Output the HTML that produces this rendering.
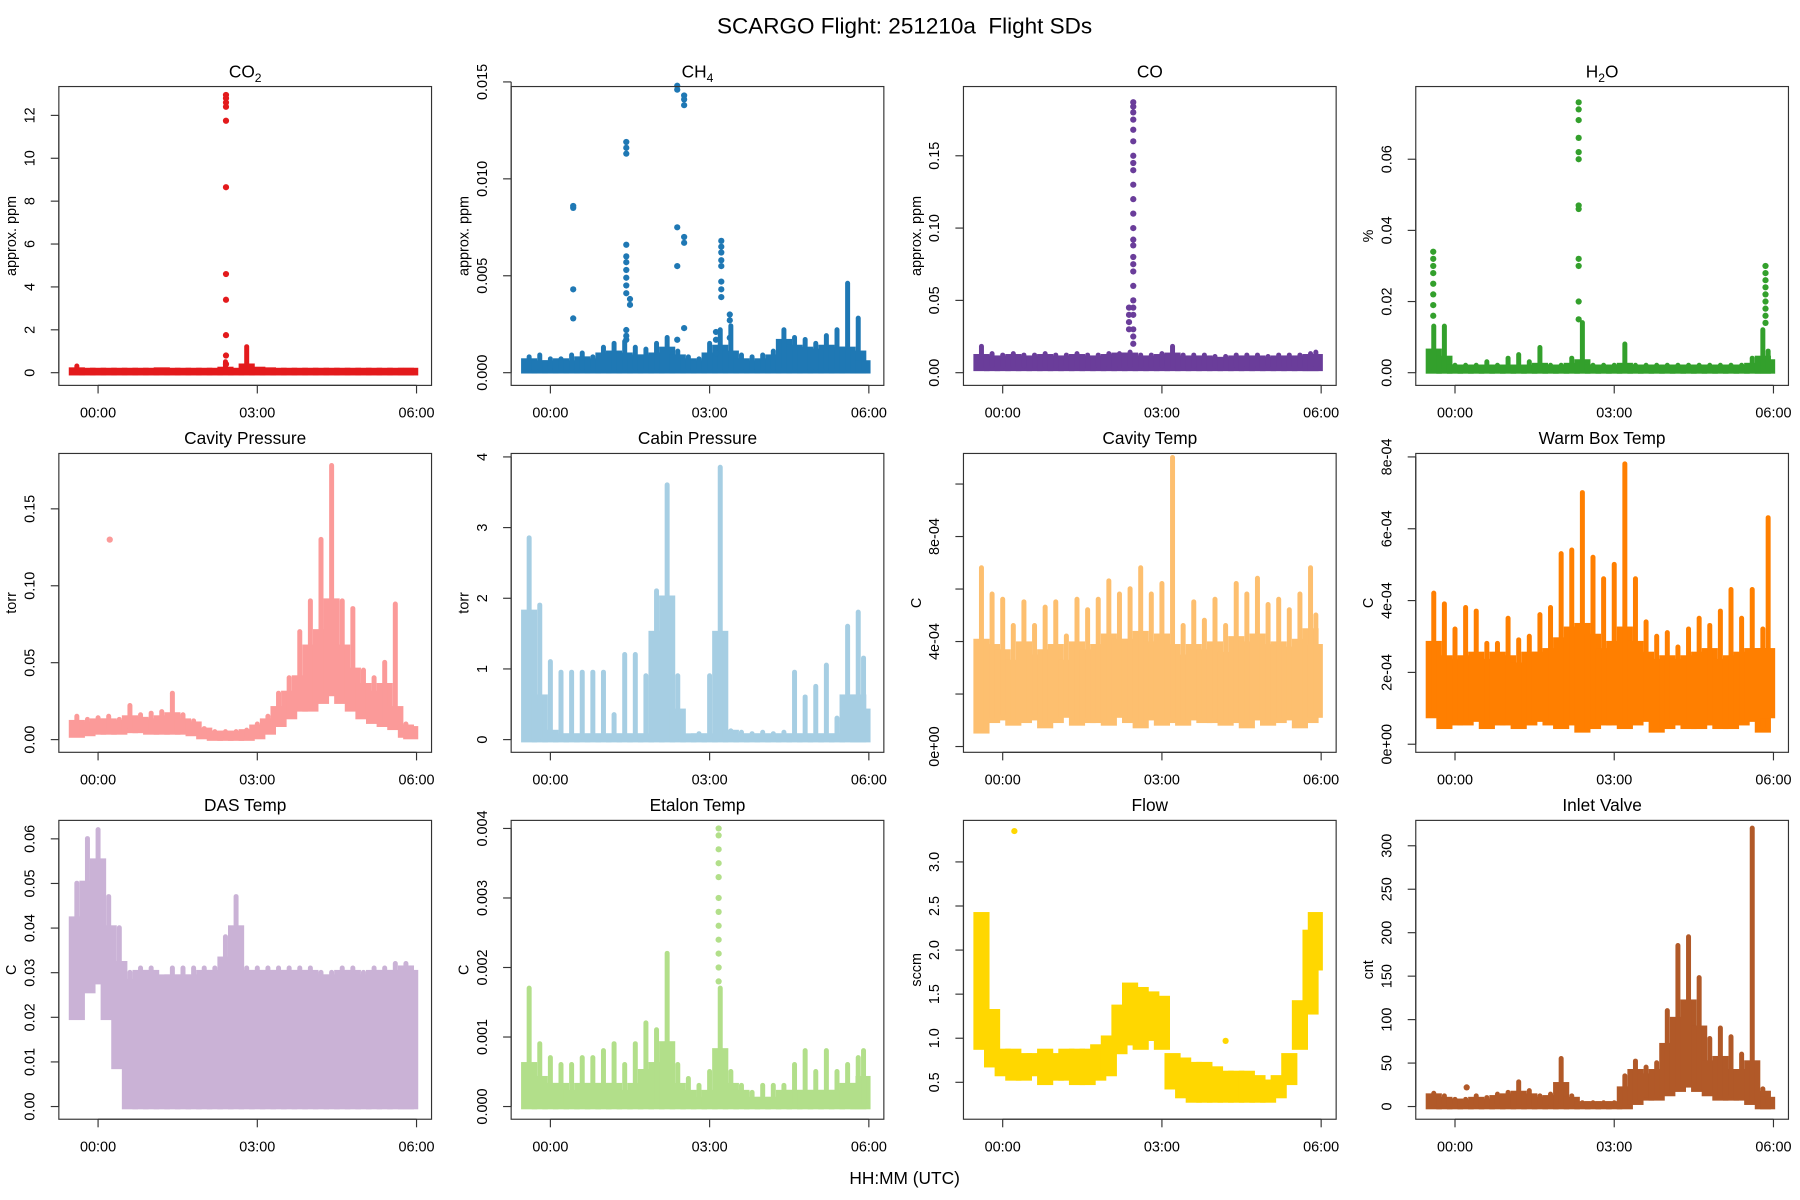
<!DOCTYPE html>
<html><head><meta charset="utf-8"><style>
html,body{margin:0;padding:0;background:#fff;}
svg{display:block;font-family:"Liberation Sans",sans-serif;}
</style></head><body>
<svg id="chart" width="1800" height="1200" viewBox="0 0 1560 1040" preserveAspectRatio="none" xmlns="http://www.w3.org/2000/svg">
<text x="784" y="29" text-anchor="middle" font-size="19.5" fill="#000" style="white-space:pre">SCARGO Flight: 251210a  Flight SDs</text>
<text x="784" y="1026" text-anchor="middle" font-size="15" fill="#000">HH:MM (UTC)</text>
</svg>
<script>
const T = [-0.4,-0.2,0,0.2,0.4,0.6,0.8,1.0,1.2,1.4,1.6,1.8,2.0,2.2,2.4,2.6,2.8,3.0,3.2,3.4,3.6,3.8,4.0,4.2,4.4,4.6,4.8,5.0,5.2,5.4,5.6,5.8,5.9];
const xTickHours = [0,3,6];
const xTickLabels = ["00:00","03:00","06:00"];

const co2Lo = [0,0,0,0,0,0,0,0,0,0,0,0,0,0,0,0,0,0,0,0,0,0,0,0,0,0,0,0,0,0,0,0,0];
const co2Hi = [0.12,0.1,0.1,0.1,0.1,0.1,0.1,0.1,0.12,0.1,0.1,0.1,0.1,0.1,0.15,0.1,0.3,0.15,0.12,0.1,0.1,0.1,0.1,0.1,0.1,0.1,0.1,0.1,0.1,0.1,0.1,0.1,0.1];
const co2Pk = [0.3,0,0,0,0,0,0,0,0,0,0,0,0,0,0.5,0,1.2,0,0,0,0,0,0,0,0,0,0,0,0,0,0,0,0];
const co2PtT = [2.41,2.41,2.41,2.41,2.41,2.41,2.41,2.41,2.41,2.41,2.41];
const co2PtV = [12.95,12.8,12.6,12.4,11.75,8.65,4.6,3.4,1.75,0.8,0.4];

const ch4Lo = [0.0001,0.0001,0.0001,0.0001,0.0001,0.0001,0.0001,0.0001,0.0001,0.0001,0.0001,0.0001,0.0001,0.0001,0.0001,0.0001,0.0001,0.0001,0.0001,0.0001,0.0001,0.0001,0.0001,0.0001,0.0001,0.0001,0.0001,0.0001,0.0001,0.0001,0.0001,0.0001,0.0001];
const ch4Hi = [0.0006,0.0005,0.0005,0.0006,0.0005,0.0007,0.0006,0.0009,0.001,0.0009,0.0008,0.0008,0.0009,0.0012,0.0008,0.0006,0.0005,0.0009,0.0013,0.001,0.0006,0.0005,0.0006,0.0008,0.0016,0.0013,0.0012,0.0011,0.0013,0.0012,0.0012,0.001,0.0005];
const ch4Pk = [0.0008,0.0009,0.0007,0.0007,0.0009,0.001,0.0008,0.0013,0.0015,0.0016,0.0013,0.0012,0.0015,0.0018,0.0011,0.0008,0.0007,0.0015,0.0022,0.0024,0.0009,0.0008,0.0009,0.0011,0.0022,0.0018,0.0017,0.0015,0.0019,0.0022,0.0046,0.0028,0.0009];
const ch4PtT = [0.43,0.43,0.43,0.43,1.43,1.43,1.43,1.43,1.43,1.43,1.43,1.43,1.43,1.43,1.43,1.43,1.43,1.5,1.5,2.39,2.39,2.39,2.39,2.39,2.52,2.52,2.52,2.52,2.52,2.52,3.22,3.22,3.22,3.22,3.22,3.22,3.22,3.22,3.38,3.38,3.38,3.12,3.12,3.12];
const ch4PtV = [0.0086,0.0085,0.0043,0.0028,0.0119,0.0116,0.0113,0.0066,0.006,0.0057,0.0053,0.0049,0.0045,0.0041,0.0022,0.0019,0.0017,0.0038,0.0035,0.0148,0.0146,0.0075,0.0055,0.0017,0.0143,0.0141,0.0138,0.007,0.0067,0.0023,0.0068,0.0065,0.0062,0.0058,0.0055,0.0047,0.0043,0.0039,0.003,0.0027,0.0018,0.0021,0.0017,0.001];

const coLo = [0.003,0.003,0.003,0.003,0.003,0.003,0.003,0.003,0.003,0.003,0.003,0.003,0.003,0.003,0.003,0.003,0.003,0.003,0.003,0.003,0.003,0.003,0.003,0.003,0.003,0.003,0.003,0.003,0.003,0.003,0.003,0.003,0.003];
const coHi = [0.011,0.01,0.01,0.011,0.01,0.01,0.011,0.01,0.01,0.011,0.01,0.01,0.011,0.012,0.012,0.01,0.01,0.011,0.012,0.01,0.01,0.01,0.009,0.009,0.01,0.01,0.01,0.009,0.01,0.01,0.01,0.011,0.011];
const coPk = [0.018,0.013,0.012,0.013,0.012,0.012,0.013,0.012,0.012,0.013,0.012,0.012,0.013,0.013,0.014,0.012,0.012,0.013,0.018,0.012,0.012,0.012,0.011,0.011,0.012,0.012,0.012,0.011,0.012,0.012,0.012,0.013,0.014];
const coPtT = [2.46,2.46,2.46,2.46,2.46,2.46,2.46,2.46,2.46,2.46,2.46,2.46,2.46,2.46,2.46,2.46,2.46,2.46,2.46,2.46,2.46,2.46,2.46,2.46,2.46,2.38,2.38,2.38,2.38];
const coPtV = [0.187,0.184,0.18,0.175,0.168,0.16,0.15,0.145,0.14,0.13,0.12,0.11,0.1,0.092,0.088,0.08,0.075,0.07,0.06,0.05,0.045,0.04,0.03,0.025,0.02,0.045,0.04,0.035,0.03];

const h2oLo = [0.0005,0.0005,0.0005,0.0005,0.0005,0.0005,0.0005,0.0005,0.0005,0.0005,0.0005,0.0005,0.0005,0.0005,0.0005,0.0005,0.0005,0.0005,0.0005,0.0005,0.0005,0.0005,0.0005,0.0005,0.0005,0.0005,0.0005,0.0005,0.0005,0.0005,0.0005,0.0005,0.0005];
const h2oHi = [0.006,0.004,0.0015,0.0015,0.0015,0.0015,0.0015,0.0015,0.0015,0.0015,0.002,0.0015,0.0015,0.002,0.003,0.0015,0.0015,0.0015,0.002,0.0015,0.0015,0.0015,0.0015,0.0015,0.0015,0.0015,0.0015,0.0015,0.0015,0.0015,0.002,0.004,0.003];
const h2oPk = [0.013,0.013,0.002,0.002,0.002,0.003,0.002,0.004,0.005,0.003,0.007,0.002,0.002,0.004,0.014,0.002,0.002,0.002,0.008,0.002,0.002,0.002,0.002,0.002,0.002,0.002,0.002,0.002,0.002,0.002,0.004,0.012,0.006];
const h2oPtT = [-0.41,-0.41,-0.41,-0.41,-0.41,-0.41,-0.41,-0.41,2.33,2.33,2.33,2.33,2.33,2.33,2.33,2.33,2.33,2.33,2.33,2.33,5.85,5.85,5.85,5.85,5.85,5.85,5.85,5.85,5.85];
const h2oPtV = [0.034,0.032,0.03,0.028,0.025,0.022,0.019,0.016,0.076,0.074,0.071,0.066,0.062,0.06,0.047,0.046,0.032,0.03,0.02,0.015,0.03,0.028,0.026,0.024,0.022,0.02,0.018,0.016,0.014];

const cavpLo = [0.003,0.004,0.005,0.005,0.005,0.006,0.006,0.005,0.005,0.005,0.005,0.004,0.002,0.001,0.001,0.001,0.001,0.002,0.005,0.01,0.015,0.02,0.02,0.025,0.03,0.025,0.02,0.015,0.012,0.01,0.008,0.003,0.002];
const cavpHi = [0.011,0.01,0.012,0.012,0.011,0.014,0.013,0.012,0.014,0.016,0.012,0.01,0.006,0.004,0.004,0.004,0.005,0.008,0.012,0.02,0.03,0.04,0.06,0.07,0.09,0.06,0.045,0.035,0.03,0.035,0.02,0.008,0.007];
const cavpPk = [0.015,0.013,0.014,0.015,0.013,0.022,0.016,0.017,0.018,0.03,0.016,0.012,0.007,0.005,0.005,0.005,0.006,0.01,0.015,0.03,0.04,0.07,0.09,0.13,0.178,0.09,0.085,0.045,0.04,0.05,0.088,0.01,0.008];
const cavpPtT = [0.22];
const cavpPtV = [0.13];

const cabLo = [0,0,0,0,0,0,0,0,0,0,0,0,0,0,0,0,0,0,0,0,0,0,0,0,0,0,0,0,0,0,0,0,0];
const cabHi = [1.8,0.6,0.1,0.05,0.05,0.05,0.05,0.05,0.05,0.05,0.05,0.05,1.5,2.0,0.4,0.05,0.05,0.05,1.5,0.1,0.05,0.05,0.05,0.05,0.05,0.05,0.05,0.05,0.05,0.05,0.6,0.6,0.4];
const cabPk = [2.85,1.9,1.1,0.95,0.95,0.95,0.95,0.95,0.35,1.2,1.2,0.9,2.1,3.6,0.9,0.05,0.08,0.9,3.85,0.12,0.1,0.08,0.1,0.08,0.1,0.95,0.6,0.75,1.05,0.3,1.6,1.8,1.15];
const cabPtT = [];
const cabPtV = [];

const cavtLo = [0.6e-4,1.0e-4,1.1e-4,0.9e-4,1.0e-4,1.1e-4,0.8e-4,1.0e-4,1.2e-4,0.9e-4,1.0e-4,1.0e-4,0.9e-4,1.2e-4,1.0e-4,0.8e-4,1.1e-4,0.9e-4,1.0e-4,0.9e-4,1.1e-4,1.0e-4,1.0e-4,0.9e-4,1.0e-4,0.8e-4,1.1e-4,0.9e-4,1.0e-4,1.1e-4,0.8e-4,1.0e-4,1.2e-4];
const cavtHi = [4.0e-4,3.8e-4,3.6e-4,3.2e-4,3.9e-4,3.4e-4,3.6e-4,3.8e-4,3.2e-4,3.9e-4,3.6e-4,3.8e-4,4.2e-4,4.0e-4,4.0e-4,4.3e-4,3.9e-4,4.2e-4,3.8e-4,3.4e-4,3.8e-4,3.6e-4,3.9e-4,3.5e-4,4.1e-4,3.9e-4,4.2e-4,3.8e-4,3.9e-4,3.7e-4,4.0e-4,4.4e-4,3.8e-4];
const cavtPk = [6.8e-4,5.8e-4,5.6e-4,4.6e-4,5.5e-4,4.6e-4,5.3e-4,5.5e-4,4.2e-4,5.6e-4,5.2e-4,5.6e-4,6.3e-4,5.8e-4,6.0e-4,6.8e-4,5.8e-4,6.2e-4,11.0e-4,4.6e-4,5.5e-4,4.8e-4,5.6e-4,4.6e-4,6.2e-4,5.8e-4,6.4e-4,5.4e-4,5.6e-4,5.2e-4,5.8e-4,6.8e-4,5.0e-4];
const cavtPtT = [];
const cavtPtV = [];

const wbLo = [0.8e-4,0.5e-4,0.6e-4,0.6e-4,0.7e-4,0.5e-4,0.6e-4,0.6e-4,0.5e-4,0.6e-4,0.7e-4,0.6e-4,0.5e-4,0.6e-4,0.4e-4,0.5e-4,0.6e-4,0.6e-4,0.5e-4,0.6e-4,0.7e-4,0.4e-4,0.5e-4,0.6e-4,0.5e-4,0.5e-4,0.6e-4,0.5e-4,0.5e-4,0.6e-4,0.7e-4,0.4e-4,0.8e-4];
const wbHi = [2.8e-4,2.4e-4,2.3e-4,2.4e-4,2.5e-4,2.3e-4,2.5e-4,2.4e-4,2.2e-4,2.5e-4,2.5e-4,2.6e-4,2.9e-4,3.2e-4,3.3e-4,3.0e-4,2.6e-4,2.8e-4,3.2e-4,2.8e-4,2.5e-4,2.3e-4,2.4e-4,2.3e-4,2.4e-4,2.5e-4,2.6e-4,2.3e-4,2.4e-4,2.5e-4,2.6e-4,2.6e-4,2.6e-4];
const wbPk = [4.2e-4,3.9e-4,3.2e-4,3.8e-4,3.7e-4,2.8e-4,2.8e-4,3.5e-4,2.9e-4,3.0e-4,3.6e-4,3.8e-4,5.3e-4,5.4e-4,7.0e-4,5.2e-4,4.6e-4,5.0e-4,7.8e-4,4.6e-4,3.4e-4,3.0e-4,3.1e-4,2.7e-4,3.2e-4,3.5e-4,3.3e-4,3.7e-4,4.3e-4,3.5e-4,4.3e-4,3.2e-4,6.3e-4];
const wbPtT = [];
const wbPtV = [];

const dasLo = [0.02,0.026,0.028,0.02,0.009,0,0,0,0,0,0,0,0,0,0,0,0,0,0,0,0,0,0,0,0,0,0,0,0,0,0,0,0];
const dasHi = [0.042,0.05,0.055,0.04,0.032,0.028,0.03,0.03,0.029,0.029,0.029,0.029,0.03,0.03,0.033,0.04,0.03,0.03,0.03,0.03,0.03,0.03,0.03,0.029,0.029,0.03,0.03,0.029,0.03,0.03,0.03,0.031,0.03];
const dasPk = [0.05,0.06,0.062,0.047,0.04,0.03,0.031,0.031,0.029,0.031,0.031,0.031,0.031,0.031,0.038,0.047,0.031,0.031,0.031,0.031,0.031,0.031,0.031,0.03,0.03,0.031,0.031,0.03,0.031,0.031,0.032,0.032,0.031];
const dasPtT = [];
const dasPtV = [];

const etLo = [0,0,0,0,0,0,0,0,0,0,0,0,0,0,0,0,0,0,0,0,0,0,0,0,0,0,0,0,0,0,0,0,0];
const etHi = [0.0006,0.0004,0.0003,0.0003,0.0002,0.0003,0.0003,0.0003,0.0003,0.0002,0.0003,0.0005,0.0006,0.0009,0.0003,0.0002,0.0001,0.0002,0.0008,0.0003,0.0002,0.0001,0.0001,0.0001,0.0002,0.0002,0.0002,0.0002,0.0002,0.0002,0.0003,0.0003,0.0004];
const etPk = [0.0017,0.0009,0.0007,0.0006,0.0006,0.0007,0.0007,0.0008,0.0009,0.0006,0.0009,0.0012,0.0011,0.0022,0.0006,0.0004,0.0003,0.0005,0.0017,0.0005,0.0003,0.0002,0.0003,0.0003,0.0003,0.0006,0.0008,0.0005,0.0008,0.0005,0.0006,0.0007,0.0008];
const etPtT = [3.17,3.17,3.17,3.17,3.17,3.17,3.17,3.17,3.17,3.17,3.17,3.17];
const etPtV = [0.004,0.0039,0.0037,0.0035,0.0033,0.003,0.0028,0.0026,0.0024,0.0022,0.002,0.0018];

const flowLo = [0.9,0.7,0.6,0.55,0.55,0.6,0.5,0.55,0.55,0.5,0.5,0.55,0.6,0.85,0.95,0.9,1.0,0.9,0.45,0.35,0.3,0.3,0.3,0.3,0.3,0.3,0.3,0.3,0.35,0.5,0.9,1.3,1.8];
const flowHi = [2.4,1.3,0.85,0.85,0.8,0.8,0.85,0.8,0.85,0.85,0.85,0.9,1.0,1.35,1.6,1.55,1.5,1.45,0.8,0.75,0.7,0.7,0.65,0.6,0.6,0.6,0.55,0.5,0.55,0.8,1.4,2.2,2.4];
const flowPk = [2.4,1.3,0.85,0.85,0.8,0.8,0.85,0.8,0.85,0.85,0.85,0.9,1.0,1.35,1.6,1.55,1.5,1.45,0.8,0.75,0.7,0.7,0.65,0.6,0.6,0.6,0.55,0.5,0.55,0.8,1.4,2.2,2.4];
const flowPtT = [0.22,4.2];
const flowPtV = [3.35,0.97];

const inLo = [0,0,0,0,0,0,0,0,0,0,0,0,0,0,0,0,0,0,0,5,10,10,15,20,25,20,15,10,10,10,5,0,0];
const inHi = [12,8,6,5,8,6,10,12,15,12,8,10,25,8,3,3,3,3,20,40,35,40,70,100,120,90,50,55,40,40,50,15,8];
const inPk = [15,12,8,8,12,10,14,16,28,18,12,14,55,12,4,4,4,4,35,52,45,50,110,185,195,148,78,90,80,60,320,20,10];
const inPtT = [0.22];
const inPtV = [22];

const svg = document.getElementById('chart');
const NS = 'http://www.w3.org/2000/svg';
function mk(tag, attrs){const e=document.createElementNS(NS,tag);for(const k in attrs)e.setAttribute(k,attrs[k]);svg.appendChild(e);return e;}

const panels = [
 {key:'co2',title:'CO',sub:'2',ylab:'approx. ppm',col:'#E31A1C',L:51,top:75,v0:0,p0:323,v1:12,p1:100,ticks:[0,2,4,6,8,10,12],lab:['0','2','4','6','8','10','12'],lo:co2Lo,hi:co2Hi,pk:co2Pk,pt:co2PtT,pv:co2PtV},
 {key:'ch4',title:'CH',sub:'4',ylab:'approx. ppm',col:'#1F78B4',L:443,top:75,v0:0,p0:323,v1:0.015,p1:71,ticks:[0,0.005,0.01,0.015],lab:['0.000','0.005','0.010','0.015'],lo:ch4Lo,hi:ch4Hi,pk:ch4Pk,pt:ch4PtT,pv:ch4PtV},
 {key:'co',title:'CO',sub:'',ylab:'approx. ppm',col:'#6A3D9A',L:835,top:75,v0:0,p0:323,v1:0.15,p1:135,ticks:[0,0.05,0.1,0.15],lab:['0.00','0.05','0.10','0.15'],lo:coLo,hi:coHi,pk:coPk,pt:coPtT,pv:coPtV},
 {key:'h2o',title:'H',sub:'2',title2:'O',ylab:'%',col:'#33A02C',L:1227,top:75,v0:0,p0:323,v1:0.06,p1:138,ticks:[0,0.02,0.04,0.06],lab:['0.00','0.02','0.04','0.06'],lo:h2oLo,hi:h2oHi,pk:h2oPk,pt:h2oPtT,pv:h2oPtV},
 {key:'cavity-pressure',title:'Cavity Pressure',sub:'',ylab:'torr',col:'#FB9A99',L:51,top:393,v0:0,p0:641,v1:0.15,p1:441,ticks:[0,0.05,0.1,0.15],lab:['0.00','0.05','0.10','0.15'],lo:cavpLo,hi:cavpHi,pk:cavpPk,pt:cavpPtT,pv:cavpPtV},
 {key:'cabin-pressure',title:'Cabin Pressure',sub:'',ylab:'torr',col:'#A6CEE3',L:443,top:393,v0:0,p0:641,v1:4,p1:396,ticks:[0,1,2,3,4],lab:['0','1','2','3','4'],lo:cabLo,hi:cabHi,pk:cabPk,pt:cabPtT,pv:cabPtV},
 {key:'cavity-temp',title:'Cavity Temp',sub:'',ylab:'C',col:'#FDBF6F',L:835,top:393,v0:0,p0:647,v1:8e-4,p1:465,ticks:[0,2e-4,4e-4,6e-4,8e-4,1e-3],lab:['0e+00','','4e-04','','8e-04',''],lo:cavtLo,hi:cavtHi,pk:cavtPk,pt:cavtPtT,pv:cavtPtV},
 {key:'warm-box-temp',title:'Warm Box Temp',sub:'',ylab:'C',col:'#FF7F00',L:1227,top:393,v0:0,p0:645,v1:8e-4,p1:396,ticks:[0,2e-4,4e-4,6e-4,8e-4],lab:['0e+00','2e-04','4e-04','6e-04','8e-04'],lo:wbLo,hi:wbHi,pk:wbPk,pt:wbPtT,pv:wbPtV},
 {key:'das-temp',title:'DAS Temp',sub:'',ylab:'C',col:'#CAB2D6',L:51,top:711,v0:0,p0:959,v1:0.06,p1:727,ticks:[0,0.01,0.02,0.03,0.04,0.05,0.06],lab:['0.00','0.01','0.02','0.03','0.04','0.05','0.06'],lo:dasLo,hi:dasHi,pk:dasPk,pt:dasPtT,pv:dasPtV},
 {key:'etalon-temp',title:'Etalon Temp',sub:'',ylab:'C',col:'#B2DF8A',L:443,top:711,v0:0,p0:959,v1:0.004,p1:718,ticks:[0,0.001,0.002,0.003,0.004],lab:['0.000','0.001','0.002','0.003','0.004'],lo:etLo,hi:etHi,pk:etPk,pt:etPtT,pv:etPtV},
 {key:'flow',title:'Flow',sub:'',ylab:'sccm',col:'#FFD700',L:835,top:711,v0:0.5,p0:938,v1:3.0,p1:747,ticks:[0.5,1,1.5,2,2.5,3],lab:['0.5','1.0','1.5','2.0','2.5','3.0'],lo:flowLo,hi:flowHi,pk:flowPk,pt:flowPtT,pv:flowPtV},
 {key:'inlet-valve',title:'Inlet Valve',sub:'',ylab:'cnt',col:'#B15928',L:1227,top:711,v0:0,p0:959,v1:300,p1:733,ticks:[0,50,100,150,200,250,300],lab:['0','50','100','150','200','250','300'],lo:inLo,hi:inHi,pk:inPk,pt:inPtT,pv:inPtV}
];

const W=323,H=259,R=2.4;
panels.forEach(p=>{
  const xs=t=>p.L+34+t*46;
  const ys=v=>p.p0+(v-p.v0)*(p.p1-p.p0)/(p.v1-p.v0);
  for(let i=0;i<T.length;i++){
    const x0=xs(T[i]-0.1)-R, x1=xs(Math.min(T[i]+0.1,5.98))+R;
    const yTop=ys(p.hi[i])-R, yBot=ys(p.lo[i])+R;
    const r=mk('rect',{x:x0,y:yTop,width:x1-x0,height:Math.max(1,yBot-yTop),fill:p.col});
    
    
    if(p.pk[i]>p.hi[i]){
      const yp=ys(p.pk[i]);
      const c=mk('rect',{x:xs(T[i])-R*0.9,y:yp-R,width:1.8*R,height:Math.max(1,ys(p.lo[i])-yp+R),rx:R*0.9,fill:p.col});
      
      
    }
  }
  for(let i=0;i<p.pt.length;i++){
    const c=mk('circle',{cx:xs(p.pt[i]),cy:ys(p.pv[i]),r:R+0.3,fill:p.col});
    
    
  }
  const b=mk('rect',{x:p.L,y:p.top,width:W,height:H,fill:'none',stroke:'#333','stroke-width':1});
  
  
  const tt=mk('text',{x:p.L+W/2,y:p.top-8,'text-anchor':'middle','font-size':15,fill:'#000'});
  
  
  tt.appendChild(document.createTextNode(p.title));
  if(p.sub){const s=document.createElementNS(NS,'tspan');s.setAttribute('font-size','10.5');s.setAttribute('dy','4');s.textContent=p.sub;tt.appendChild(s);}
  if(p.title2){const s=document.createElementNS(NS,'tspan');s.setAttribute('dy','-4');s.textContent=p.title2;tt.appendChild(s);}
  const bot=p.top+H;
  const xa=mk('line',{x1:xs(xTickHours[0]),x2:xs(xTickHours[xTickHours.length-1]),y1:bot,y2:bot,stroke:'#333'});
  
  
  xTickHours.forEach((h,j)=>{
    const tk=mk('line',{x1:xs(h),x2:xs(h),y1:bot,y2:bot+7,stroke:'#333'});
    
    
    const tl=mk('text',{x:xs(h),y:bot+28,'text-anchor':'middle','font-size':12.5,fill:'#000'});
    
    
    tl.textContent=xTickLabels[j];
  });
  const ya=mk('line',{x1:p.L,x2:p.L,y1:ys(p.ticks[0]),y2:ys(p.ticks[p.ticks.length-1]),stroke:'#333'});
  
  
  p.ticks.forEach((v,j)=>{
    const y=ys(v);
    const tk=mk('line',{x1:p.L-7,x2:p.L,y1:y,y2:y,stroke:'#333'});
    
    
    if(p.lab[j]){
      const tl=mk('text',{x:p.L-21,y:y,'text-anchor':'middle','font-size':12.5,fill:'#000',transform:`rotate(-90 ${p.L-21} ${y})`});
      
      
      tl.textContent=p.lab[j];
    }
  });
  const yl=mk('text',{x:p.L-37,y:p.top+H/2,'text-anchor':'middle','font-size':12.5,fill:'#000',transform:`rotate(-90 ${p.L-37} ${p.top+H/2})`});
  
  
  yl.textContent=p.ylab;
});
</script>
</body></html>
